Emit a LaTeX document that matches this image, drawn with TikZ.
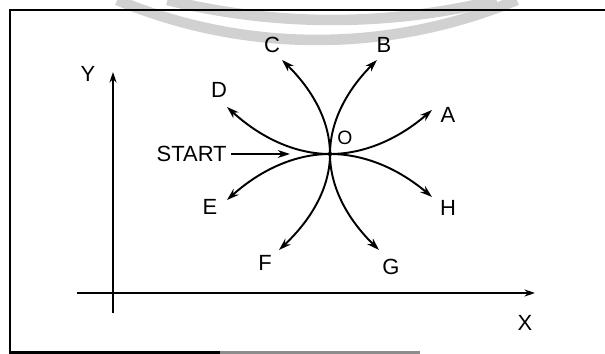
\documentclass[tikz,border=0pt]{standalone}
\usepackage{fontspec}
\setmainfont{Liberation Sans}
\usetikzlibrary{arrows.meta}
\begin{document}
\begin{tikzpicture}[x=0.02cm,y=-0.02cm,
  lbl/.style={inner sep=0pt,font=\fontsize{12.5}{14}\selectfont},
  traj/.style={line width=1.1pt,-{Stealth[length=7pt,width=4.5pt]}},
  axis/.style={line width=1.2pt},
  wm/.style={line width=6pt,black!18}]
\useasboundingbox (0,0) rectangle (605,354);
% watermark arcs
\draw[wm] (317,-480) ++(67.4:520) arc[start angle=67.4,end angle=112.6,radius=520];
\draw[wm] (332,-670) ++(76.2:690) arc[start angle=76.2,end angle=103.8,radius=690];
% frame (open on the right, bottom fading out)
\draw[line width=1.2pt] (605,10) -- (10,10) -- (10,352.5) -- (220,352.5);
\draw[line width=1.2pt,black!45] (220,352.5) -- (420,352.5);
% axes
\coordinate (yb) at (113,313);
\coordinate (yt) at (113,72);
\coordinate (xl) at (77,293);
\coordinate (xr) at (535,293);
\draw[axis,-{Stealth[length=6pt,width=4pt]}] (yb) -- (yt);
\draw[axis,-{Stealth[length=6pt,width=4pt]}] (xl) -- (xr);
\node[lbl] (Y) at (88,74) {Y};
\node[lbl] (X) at (525,323) {X};
% origin and tips
\coordinate (O) at (330,154);
\coordinate (tA) at (432,110);
\coordinate (tB) at (377,60);
\coordinate (tC) at (282,60);
\coordinate (tD) at (227,107);
\coordinate (tE) at (227,200);
\coordinate (tF) at (279,250);
\coordinate (tG) at (379,250);
\coordinate (tH) at (432,197);
\draw[traj] (O) .. controls (330,122.7) and (314,91.3) .. (tC);
\draw[traj] (O) .. controls (330,122.7) and (345.7,91.3) .. (tB);
\draw[traj] (O) .. controls (330,186) and (313,218) .. (tF);
\draw[traj] (O) .. controls (330,186) and (346.3,218) .. (tG);
\draw[traj] (O) .. controls (295.7,154) and (261.3,138.3) .. (tD);
\draw[traj] (O) .. controls (364,154) and (398,139.3) .. (tA);
\draw[traj] (O) .. controls (295.7,154) and (261.3,169.3) .. (tE);
\draw[traj] (O) .. controls (364,154) and (398,168.3) .. (tH);
\fill (O) circle (2.2);
% labels
\node[lbl] (A) at (448,115) {A};
\node[lbl] (B) at (384,45) {B};
\node[lbl] (C) at (272,45) {C};
\node[lbl] (D) at (219,90) {D};
\node[lbl] (E) at (210,207) {E};
\node[lbl] (F) at (265,263) {F};
\node[lbl] (G) at (391,267) {G};
\node[lbl] (H) at (448,208) {H};
\node[lbl,font=\fontsize{11}{13}\selectfont] (Ol) at (345,138) {O};
\node[lbl,anchor=east] (S) at (227,154) {START};
\coordinate (sEnd) at (290,154);
\draw[line width=1pt,-{Stealth[length=7pt,width=4.5pt]}] (S.east) ++(4,0) -- (sEnd);
\end{tikzpicture}
\end{document}
